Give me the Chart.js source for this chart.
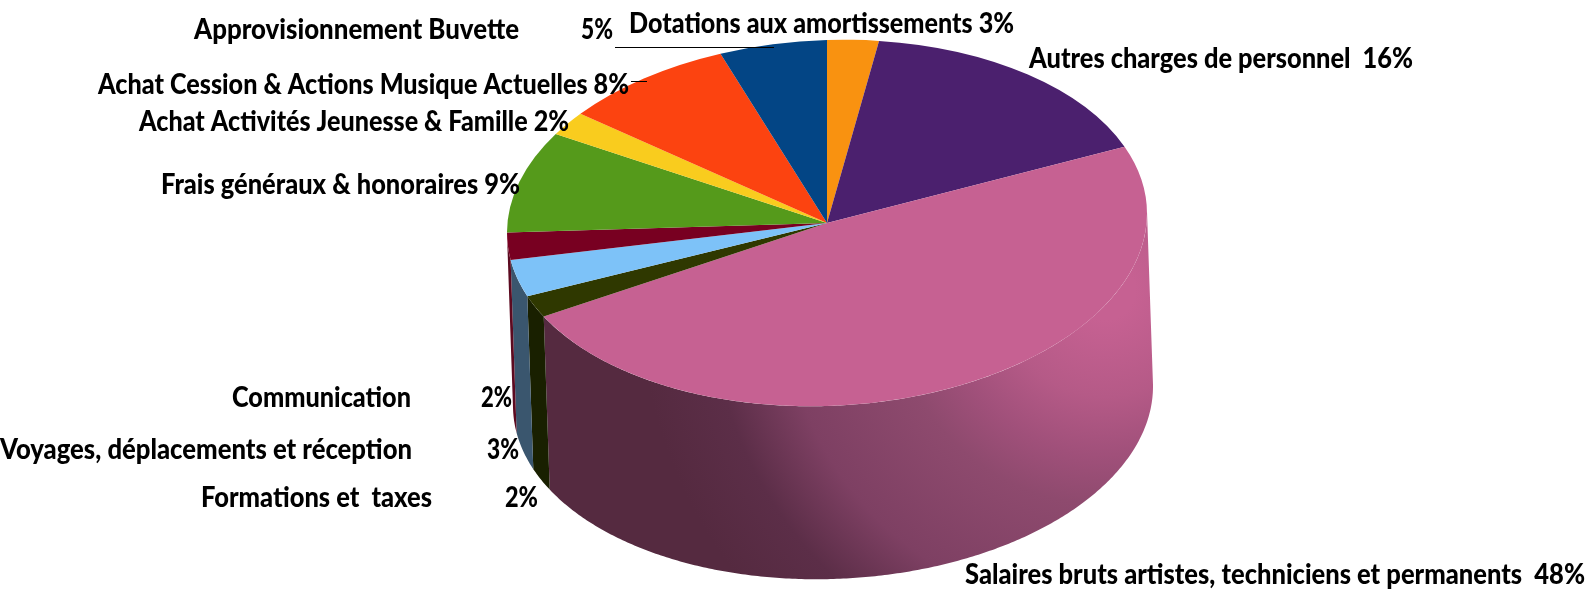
<!DOCTYPE html>
<html>
<head>
<meta charset="utf-8">
<title>Répartition des charges</title>
<script src="https://cdn.jsdelivr.net/npm/chart.js@4"></script>
<style>
  html, body { margin: 0; padding: 0; background: #fff; }
  #pie3d { display: block; }
</style>
</head>
<body>
<canvas id="pie3d" width="1587" height="589"></canvas>
<script>
// data
const categories = [
    'Dotations aux amortissements',
    'Autres charges de personnel',
    'Salaires bruts artistes, techniciens et permanents',
    'Formations et  taxes',
    'Voyages, déplacements et réception',
    'Communication',
    'Frais généraux & honoraires',
    'Achat Activités Jeunesse & Famille',
    'Achat Cession & Actions Musique Actuelles',
    'Approvisionnement Buvette'
];
const values = [2.6, 16.4, 48.3, 2.0, 3.3, 2.4, 8.9, 2.1, 8.6, 5.4];
const percents = ['3%', '16%', '48%', '2%', '3%', '2%', '9%', '2%', '8%', '5%'];

// colours
const topColors = ['#F99210', '#4B206E', '#C66192', '#2F3800', '#7DC2F8', '#780021', '#559A1B', '#F9CC1E', '#FC4310', '#034585'];
const wallColors = ['#A8600A', '#301446', '#552A40', '#192000', '#3A566E', '#5C0A20', '#38660F', '#A88A12', '#A82C0A', '#022E58'];

// where the tilted disc sits on the page
const disc = { cx: 827, cy: 223, rx: 320, ry: 183, shear: 0.03, dropX: 6, dropY: 173 };

// label placement: [left, right, baseline]
const nameBoxes = [
    [629, 1014, 33],
    [1029, 1413, 68],
    [965, 1585, 584],
    [201, 432, 507],
    [0, 412, 459],
    [232, 411, 407],
    [161, 520, 194],
    [139, 569, 131],
    [98, 629, 94],
    [194, 519, 39]
];
const pctBoxes = [
    null, null, null,
    [505, 538, 507],
    [487, 519, 459],
    [481, 512, 407],
    null, null, null,
    [581, 613, 39]
];
const leaders = [
    [615, 774, 47],
    [631, 647, 81]
];

function wallPoint(angle, dropped) {
    const ux = Math.cos(angle);
    const uy = Math.sin(angle);
    return {
        x: disc.cx + disc.rx * ux + (dropped ? disc.dropX : 0),
        y: disc.cy + disc.ry * uy - disc.shear * disc.rx * ux + (dropped ? disc.dropY : 0)
    };
}

const pie3dPlugin = {
    id: 'pie3d',
    beforeDatasetsDraw(chart) {
        const ctx = chart.ctx;
        const arcs = chart.getDatasetMeta(0).data;
        // angles where the side of the disc starts and stops being seen
        const edge = Math.atan2(-disc.dropX * disc.ry,
            disc.rx * disc.dropY + disc.dropX * disc.shear * disc.rx);
        const from = edge;
        const to = edge + Math.PI;

        arcs.forEach((arc, i) => {
            const start = Math.max(arc.startAngle, from);
            const end = Math.min(arc.endAngle, to);
            if (end <= start) return;
            const steps = Math.max(4, Math.ceil((end - start) / 0.01));
            ctx.save();
            ctx.beginPath();
            for (let s = 0; s <= steps; s++) {
                const p = wallPoint(start + (end - start) * s / steps, false);
                if (s === 0) ctx.moveTo(p.x, p.y); else ctx.lineTo(p.x, p.y);
            }
            for (let s = steps; s >= 0; s--) {
                const p = wallPoint(start + (end - start) * s / steps, true);
                ctx.lineTo(p.x, p.y);
            }
            ctx.closePath();
            if (i === 2) {
                // the big slice catches the light on its right side
                const g = ctx.createRadialGradient(1105, 290, 30, 1105, 290, 480);
                g.addColorStop(0, '#C66192');
                g.addColorStop(0.17, '#B55A87');
                g.addColorStop(0.3, '#A0507A');
                g.addColorStop(0.41, '#8E4A6E');
                g.addColorStop(0.65, '#7E4063');
                g.addColorStop(0.81, '#5C2E48');
                g.addColorStop(0.97, '#552A40');
                ctx.fillStyle = g;
            } else {
                ctx.fillStyle = wallColors[i];
            }
            ctx.fill();
            ctx.restore();
        });

        // flatten the library's round pie onto the disc for the datasets draw
        const c = arcs[0];
        const sx = disc.rx / c.outerRadius;
        const sy = disc.ry / c.outerRadius;
        ctx.save();
        ctx.transform(sx, -disc.shear * sx, 0, sy,
            disc.cx - sx * c.x,
            disc.cy + disc.shear * sx * c.x - sy * c.y);
    },
    afterDatasetsDraw(chart) {
        chart.ctx.restore();
    },
    afterDraw(chart) {
        const ctx = chart.ctx;
        ctx.save();
        ctx.strokeStyle = '#000';
        ctx.lineWidth = 1;
        leaders.forEach(l => {
            ctx.beginPath();
            ctx.moveTo(l[0], l[2] + 0.5);
            ctx.lineTo(l[1], l[2] + 0.5);
            ctx.stroke();
        });
        ctx.fillStyle = '#000';
        ctx.textAlign = 'left';
        ctx.textBaseline = 'alphabetic';
        ctx.font = '900 29px Lato, "Open Sans", sans-serif';
        categories.forEach((name, i) => {
            const b = nameBoxes[i];
            if (pctBoxes[i]) {
                ctx.fillText(name, b[0], b[2], b[1] - b[0]);
                const p = pctBoxes[i];
                ctx.fillText(percents[i], p[0], p[2], p[1] - p[0]);
            } else {
                const gap = i === 1 || i === 2 ? '  ' : ' ';
                ctx.fillText(name + gap + percents[i], b[0], b[2], b[1] - b[0]);
            }
        });
        ctx.restore();
    }
};

new Chart(document.getElementById('pie3d').getContext('2d'), {
    type: 'pie',
    data: {
        labels: categories,
        datasets: [{
            data: values,
            backgroundColor: topColors,
            borderWidth: 0
        }]
    },
    options: {
        responsive: false,
        animation: false,
        layout: { padding: 0 },
        plugins: {
            legend: { display: false },
            tooltip: { enabled: false }
        }
    },
    plugins: [pie3dPlugin]
});
</script>
</body>
</html>
